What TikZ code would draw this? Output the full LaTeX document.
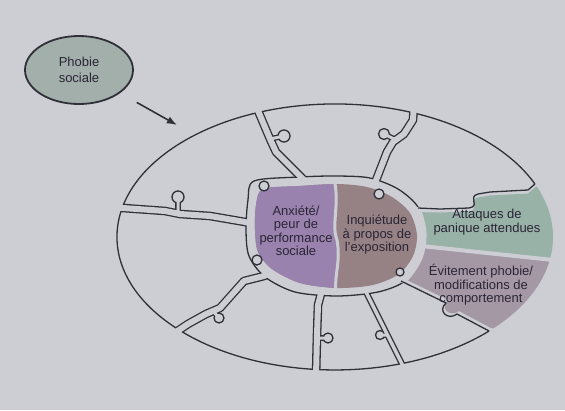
\documentclass[tikz,border=0pt]{standalone}
\usepackage{fontspec}
\setmainfont{Liberation Sans}
\usetikzlibrary{shapes.geometric,arrows.meta}
\definecolor{Papier}{HTML}{CDCDD4}
\definecolor{Trait}{HTML}{303038}
\definecolor{Texte}{HTML}{2A2535}
\definecolor{PieceViolet}{HTML}{9A82AE}
\definecolor{PieceBrun}{HTML}{968284}
\definecolor{PieceVert}{HTML}{98B2A8}
\definecolor{PieceGris}{HTML}{A598A5}
\definecolor{BullePhobie}{HTML}{A3AFAB}

% contours du trou central et des deux pieces du milieu
\newcommand\cheminTrou{plot[smooth cycle] coordinates {(254,181) (300,177) (337,176) (370,178) (398,189) (418,207) (425,233) (421,258) (405,281) (378,292) (337,296) (295,292) (265,277) (249,256) (246,230) (248,200)}}
\newcommand\cheminCentre{plot[smooth cycle] coordinates {(263,189) (300,186) (337,184) (367,187) (392,197) (410,213) (417,235) (413,256) (399,274) (373,285) (337,288) (300,283) (272,269) (258,252) (255,230) (256,205)}}
% rainures entre les pieces blanches
\newcommand\canauxLarges{(254,100) -- (259,113) -- (270,139) -- (276,152) -- (302,178) -- (308,185)
  (414,102) -- (413,120) -- (404,134) -- (393,142) -- (387,152) -- (373,188) -- (370,195)
  (110,207) -- (123,208) -- (165,211) -- (180,214) -- (210,216) -- (245,222) -- (253,224)
  (272,272) -- (264,276) -- (244,281) -- (220,308) -- (206,314) -- (188,324) -- (170,336)
  (322,290) -- (318,305) -- (317,335) -- (316,376)}
\newcommand\canalEtroit{(363,286) -- (405,370)}
% cols des tenons
\newcommand\cols{(270,139) -- (284,136) (396,140) -- (384,134) (178,211) -- (178,197)
  (213,311) -- (219,318) (317,338) -- (328,338) (387,335) -- (380,335)}

\begin{document}
\begin{tikzpicture}[x=1pt,y=-1pt,>=Latex]
  \tikzstyle{trait}=[draw=Trait,line width=1.3pt,line join=round]
  \tikzstyle{canalnoir}=[draw=Trait,line width=8.6pt,line join=round]
  \tikzstyle{canal}=[draw=Papier,line width=6pt,line join=round]
  \tikzstyle{tenon}=[fill=Papier,draw=Trait,line width=1.3pt]
  \tikzstyle{etiquette}=[align=center,text=Texte,inner sep=0pt,font=\fontsize{13}{13.5}\selectfont]

  \fill[Papier] (0,0) rectangle (565,410);

  % pieces colorees de l'anneau
  \begin{scope}
    \clip (335,237) ellipse [x radius=218, y radius=133];
    \fill[PieceVert] (560,170) -- (535,187.5) -- (528,193.5) -- (490,195.5) -- (478,197.5)
      .. controls (467,200.5) and (481,209.5) .. (469,211.5) -- (440,212.5) -- (410,212)
      -- (405,246) -- (415,246) -- (565,262) -- (580,262) -- (580,170) -- cycle;
    \fill[PieceGris] (405,246) -- (415,246) -- (565,262) -- (580,262) -- (580,350) -- (491,328)
      -- (459,311) .. controls (450,318) and (439,308) .. (448,300) -- (403,278) -- (395,270) -- cycle;
  \end{scope}

  % trou central
  \fill[Papier] \cheminTrou;
  \draw[trait] \cheminTrou;
  \begin{scope}
    \clip (335,235) -- (501,179) -- (540,235) -- (467,329) -- cycle;
    \draw[Papier,line width=3pt] \cheminTrou;
  \end{scope}

  % bord exterieur
  \draw[trait] (489.1,331.0) arc[start angle=45, end angle=336.5, x radius=218, y radius=133];

  % rainures
  \begin{scope}[even odd rule]
    \clip (335,237) ellipse [x radius=218, y radius=133] \cheminTrou;
    \draw[canalnoir] \canauxLarges;
    \draw[canalnoir,line width=6.1pt] \canalEtroit;
    \draw[canalnoir,line width=5.6pt] \cols;
  \end{scope}
  \path[tenon] (284,136) circle[radius=6] (384,134) circle[radius=5.5] (178,197) circle[radius=6]
    (219,318) circle[radius=5] (328,338) circle[radius=5] (380,335) circle[radius=4.5];
  \draw[canal] \canauxLarges;
  \draw[canal,line width=3.5pt] \canalEtroit;
  \draw[canal,line width=3pt] \cols;
  \draw[canal,line width=4pt] (412,245) -- (553,260);

  % bords des pieces blanches contre les pieces colorees
  \draw[trait] (535,184) -- (528,190) -- (490,192) -- (478,194)
    .. controls (467,197) and (481,206) .. (469,208) -- (440,209) -- (418,208);
  \draw[trait] (401,281) -- (446,303) .. controls (437,311) and (448,321) .. (457,314) -- (489.1,331.0);

  % pieces du milieu
  \begin{scope}
    \clip \cheminCentre;
    \fill[PieceBrun] (240,170) rectangle (430,300);
    \fill[PieceViolet] (240,170) -- (334,170) -- (334,178) .. controls (340,205) and (331,225) .. (337,240)
      .. controls (341,262) and (334,275) .. (336,300) -- (240,300) -- cycle;
  \end{scope}
  \draw[Papier,line width=3pt] (334,178) .. controls (340,205) and (331,225) .. (337,240)
    .. controls (341,262) and (334,275) .. (336,292);
  \path[tenon] (264,186) circle[radius=5] (257,260) circle[radius=5] (379,194) circle[radius=5]
    (400,272) circle[radius=4];

  \node[etiquette] (anxiete) at (296,231) {Anxiété/\\peur de\\performance\\sociale};
  \node[etiquette] (inquietude) at (377,235) {Inquiétude\\à propos de\\l'exposition};
  \node[etiquette] (attaques) at (487,222) {Attaques de\\panique attendues};
  \node[etiquette] (evitement) at (481,285) {Évitement phobie/\\modifications de\\comportement};

  \node[ellipse,draw=Trait,line width=1.8pt,fill=BullePhobie,minimum width=108pt,minimum height=68pt,
    inner sep=0pt,align=center,text=Texte,font=\fontsize{13}{16}\selectfont] (phobie) at (79,70) {Phobie\\sociale};
  \coordinate (cible) at (177,125);
  \draw[->,draw=Trait,line width=1.6pt,shorten <=19pt] (phobie) -- (cible);
\end{tikzpicture}
\end{document}
